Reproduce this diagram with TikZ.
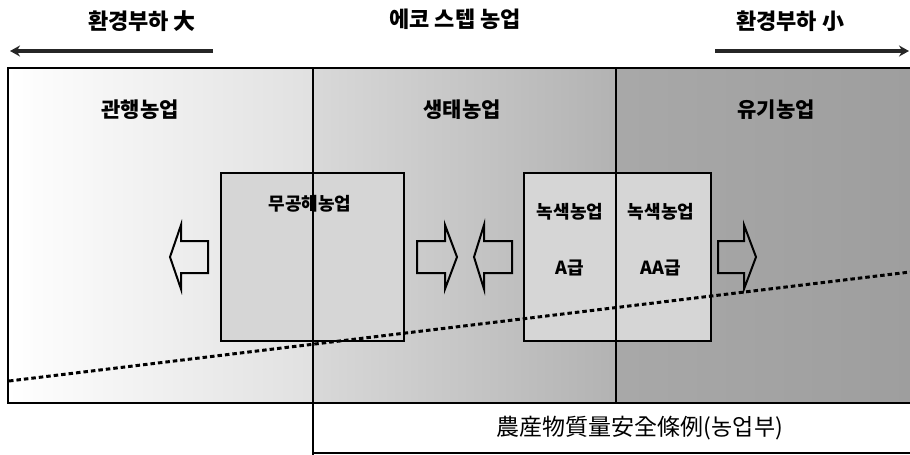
\documentclass[tikz,border=0pt]{standalone}
\usepackage{fontspec}
\newfontfamily\kr{Noto Sans CJK KR}
\usetikzlibrary{arrows.meta}
\tikzset{
  frame/.style={draw=black, line width=1.8pt},
  hdr/.style={font=\kr\bfseries\fontsize{22}{24}\selectfont, inner sep=0pt},
  zone/.style={font=\kr\bfseries\fontsize{21}{23}\selectfont, inner sep=0pt},
  inlbl/.style={font=\kr\bfseries\fontsize{18}{20}\selectfont, inner sep=0pt},
  blk/.style={draw=black, line width=2pt, line join=miter},
  inbox/.style={draw=black, line width=2pt, fill=gray!32},
  toparrow/.style={draw=black!85, line width=3.5pt},
  limit/.style={line width=3pt, draw=black, dash pattern=on 4.5pt off 3pt}
}
\begin{document}
\begin{tikzpicture}[x=1pt,y=-1pt]
\useasboundingbox (0,0) rectangle (910,455);
% background zones
\shade[left color=white, right color=gray!24] (8,68) rectangle (313,403);
\shade[left color=gray!30, right color=gray!60] (313,68) rectangle (616,403);
\shade[left color=gray!68, right color=gray!76] (616,68) rectangle (910,403);
% inner boxes
\node[inbox, minimum width=183pt, minimum height=168pt, anchor=north west] (mugong) at (220,172) {};
\node[inbox, minimum width=187pt, minimum height=168pt, anchor=north west] (green) at (523,172) {};
% frame lines
\coordinate (tl) at (8,68);
\coordinate (tr) at (910,68);
\coordinate (bl) at (8,403);
\coordinate (br) at (910,403);
\coordinate (d1t) at (313,68);
\coordinate (d1b) at (313,455);
\coordinate (d2t) at (616,68);
\coordinate (d2b) at (616,403);
\coordinate (lbb) at (313,453);
\coordinate (lbr) at (910,453);
\draw[frame] (tr) -- (tl) -- (bl) -- (br);
\draw[frame, line width=1.4pt] (d1t) -- (d1b);
\draw[frame, line width=1.4pt] (d2t) -- (d2b);
\draw[frame] (lbb) -- (lbr);
% top texts and arrows
\node[hdr] (big) at (142,21) {환경부하 大};
\node[hdr] (eco) at (455,19) {에코 스텝 농업};
\node[hdr] (small) at (790,21) {환경부하 小};
\coordinate (la1) at (213,51);
\coordinate (la2) at (10,51);
\coordinate (ra1) at (715,51);
\coordinate (ra2) at (909,51);
\draw[toparrow, -{Stealth[length=10pt,width=11pt]}] (la1) -- (la2);
\draw[toparrow, -{Stealth[length=10pt,width=11pt]}] (ra1) -- (ra2);
% zone labels
\node[zone] (conv) at (140,110) {관행농업};
\node[zone] (eco2) at (462,110) {생태농업};
\node[zone] (org) at (776,110) {유기농업};
% inner labels
\node[inlbl] (mlbl) at (310,204) {무공해농업};
\node[inlbl] (g1) at (570,212) {녹색농업};
\node[inlbl] (g2) at (661,212) {녹색농업};
\node[inlbl] (ga) at (570,268) {A급};
\node[inlbl] (gaa) at (661,268) {AA급};
% block arrows
\draw[blk] (208,241) -- (181,241) -- (181,225) -- (170,257) -- (181,289) -- (181,273) -- (208,273) -- cycle;
\draw[blk] (417,241) -- (445,241) -- (445,225) -- (457,257) -- (445,289) -- (445,273) -- (417,273) -- cycle;
\draw[blk] (512,241) -- (484,241) -- (484,225) -- (474,257) -- (484,289) -- (484,273) -- (512,273) -- cycle;
\draw[blk] (718,241) -- (744,241) -- (744,225) -- (756,257) -- (744,289) -- (744,273) -- (718,273) -- cycle;
% dotted limit line
\coordinate (ds) at (9,381);
\coordinate (de) at (910,272);
\draw[limit] (ds) -- (de);
% bottom label
\node[font=\kr\fontsize{23}{25}\selectfont, inner sep=0pt] (law) at (640,428) {農産物質量安全條例(농업부)};
\end{tikzpicture}
\end{document}
